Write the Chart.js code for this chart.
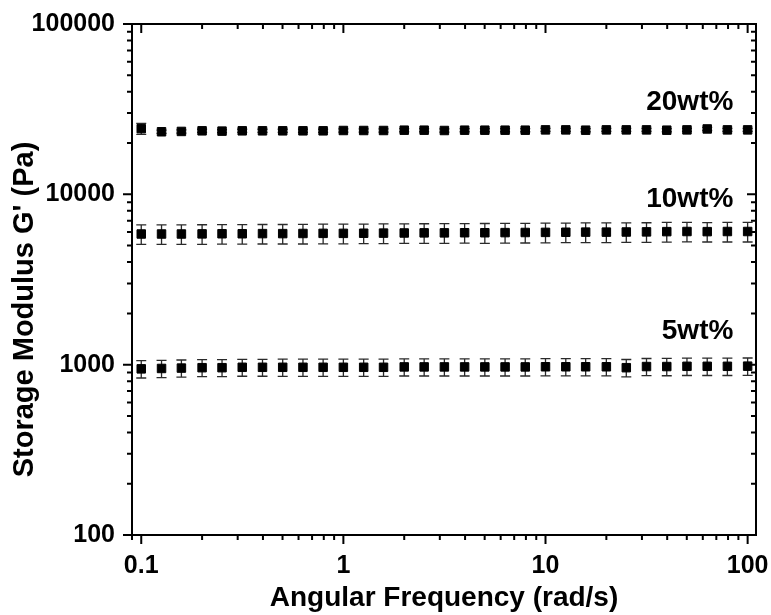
<!DOCTYPE html>
<html>
<head>
<meta charset="utf-8">
<script src="https://cdn.jsdelivr.net/npm/chart.js@4.4.1/dist/chart.umd.min.js"></script>
<style>
  html, body { margin: 0; padding: 0; background: #fff; }
  #wrap { width: 771px; height: 615px; }
</style>
</head>
<body>
<div id="wrap"><canvas id="c" width="771" height="615"></canvas></div>
<script>
// ---- data ----
const freq = [0.1, 0.126, 0.158, 0.2, 0.251, 0.316, 0.398, 0.501, 0.631, 0.794,
              1, 1.26, 1.58, 2, 2.51, 3.16, 3.98, 5.01, 6.31, 7.94,
              10, 12.6, 15.8, 20, 25.1, 31.6, 39.8, 50.1, 63.1, 79.4, 100];

const g20 = [24300, 23300, 23400, 23600, 23500, 23600, 23600, 23600, 23600, 23600,
             23700, 23700, 23700, 23800, 23800, 23700, 23800, 23800, 23800, 23800,
             23900, 23900, 23800, 23900, 23900, 23900, 23800, 23900, 24200, 23900, 23900];
const e20 = [1800, 500, 500, 500, 500, 500, 500, 500, 500, 500,
             500, 500, 500, 500, 500, 500, 500, 500, 500, 500,
             500, 500, 500, 500, 500, 500, 500, 500, 500, 500, 500];

const g10 = [5850, 5850, 5850, 5860, 5870, 5870, 5880, 5880, 5890, 5900,
             5900, 5910, 5920, 5930, 5940, 5940, 5950, 5950, 5960, 5970,
             5980, 5990, 6000, 6000, 6010, 6020, 6040, 6050, 6040, 6050, 6050];
const e10 = [760, 770, 770, 770, 770, 770, 770, 770, 780, 780,
             780, 780, 780, 780, 780, 790, 780, 790, 790, 790,
             790, 780, 790, 790, 790, 790, 800, 790, 790, 800, 800];

const g5 = [945, 950, 955, 960, 960, 965, 965, 965, 965, 965,
            965, 965, 965, 970, 970, 970, 970, 970, 970, 970,
            972, 972, 972, 972, 960, 975, 975, 978, 978, 978, 980];
const e5 = [110, 110, 110, 110, 110, 110, 110, 112, 112, 112,
            112, 112, 112, 112, 112, 112, 112, 112, 112, 112,
            112, 112, 112, 112, 112, 112, 114, 114, 114, 114, 114];

const seriesNames = ["5wt%", "10wt%", "20wt%"];
const xTickValues = [0.1, 1, 10, 100];
const xTickLabels = ["0.1", "1", "10", "100"];
const yTickValues = [100, 1000, 10000, 100000];
const yTickLabels = ["100", "1000", "10000", "100000"];
const xTitle = "Angular Frequency (rad/s)";
const yTitle = "Storage Modulus G' (Pa)";
const xMin = 0.09, xMax = 110, yMin = 100, yMax = 100000;
// label anchor positions (data space, right edge / vertical middle of text)
const labelX = [85, 85, 85];
const labelY = [1560, 9300, 34800];

// ---- chart ----
const FONT = "'Liberation Sans', Arial, Helvetica, sans-serif";
const toPts = (ys) => freq.map((f, i) => ({ x: f, y: ys[i] }));
const errs = [e5, e10, e20];

const errorBarPlugin = {
  id: 'errorBars',
  beforeDatasetsDraw(chart) {
    const ctx = chart.ctx;
    const xs = chart.scales.x, ys = chart.scales.y;
    ctx.save();
    ctx.strokeStyle = '#2a2a2a';
    ctx.lineWidth = 1.3;
    chart.data.datasets.forEach((ds, di) => {
      ds.data.forEach((p, i) => {
        const e = errs[di][i];
        const px = xs.getPixelForValue(p.x);
        const top = ys.getPixelForValue(p.y + e);
        const bot = ys.getPixelForValue(p.y - e);
        const cap = 5;
        ctx.beginPath();
        ctx.moveTo(px, top); ctx.lineTo(px, bot);
        ctx.moveTo(px - cap, top); ctx.lineTo(px + cap, top);
        ctx.moveTo(px - cap, bot); ctx.lineTo(px + cap, bot);
        ctx.stroke();
      });
    });
    ctx.restore();
  }
};

function minorValues(min, max) {
  const out = [];
  for (let d = Math.floor(Math.log10(min)); d <= Math.ceil(Math.log10(max)); d++) {
    for (let k = 1; k <= 9; k++) {
      const v = k * Math.pow(10, d);
      if (v >= min && v <= max) out.push({ v, major: k === 1 });
    }
  }
  return out;
}

const framePlugin = {
  id: 'frame',
  afterDraw(chart) {
    const ctx = chart.ctx;
    const { left, right, top, bottom } = chart.chartArea;
    const xs = chart.scales.x, ys = chart.scales.y;
    ctx.save();
    ctx.strokeStyle = '#000';
    ctx.lineWidth = 2;
    ctx.beginPath();
    ctx.rect(left, top, right - left, bottom - top);
    ctx.stroke();
    const MAJ = 9, MIN = 5;
    ctx.beginPath();
    minorValues(xMin, xMax).forEach(t => {
      const px = xs.getPixelForValue(t.v);
      const L = t.major ? MAJ : MIN;
      ctx.moveTo(px, bottom); ctx.lineTo(px, bottom + L);   // bottom: outward
      ctx.moveTo(px, top); ctx.lineTo(px, top + L);         // top: inward
    });
    minorValues(yMin, yMax).forEach(t => {
      const py = ys.getPixelForValue(t.v);
      const L = t.major ? MAJ : MIN;
      ctx.moveTo(left, py); ctx.lineTo(left - L, py);       // left: outward
      ctx.moveTo(right, py); ctx.lineTo(right - L, py);     // right: inward
    });
    ctx.stroke();
    ctx.fillStyle = '#000';
    // y axis title (sits a little below the axis centre in the reference)
    ctx.save();
    ctx.font = "bold 29px " + FONT;
    ctx.textAlign = 'center';
    ctx.textBaseline = 'middle';
    ctx.translate(25, (top + bottom) / 2 + 30);
    ctx.rotate(-Math.PI / 2);
    ctx.fillText(yTitle, 0, 0);
    ctx.restore();
    // series labels
    ctx.font = "bold 28px " + FONT;
    ctx.textAlign = 'right';
    ctx.textBaseline = 'middle';
    seriesNames.forEach((n, i) => {
      ctx.fillText(n, xs.getPixelForValue(labelX[i]), ys.getPixelForValue(labelY[i]));
    });
    ctx.restore();
  }
};

const ds = (label, ys) => ({
  label,
  data: toPts(ys),
  pointStyle: 'rect',
  pointRadius: 6,
  pointBorderWidth: 1,
  backgroundColor: '#000',
  borderColor: '#000',
  showLine: false
});

new Chart(document.getElementById('c'), {
  type: 'scatter',
  data: { datasets: [ds(seriesNames[0], g5), ds(seriesNames[1], g10), ds(seriesNames[2], g20)] },
  options: {
    responsive: false,
    animation: false,
    devicePixelRatio: 1,
    layout: { padding: { top: 24, right: 15, left: 0, bottom: 0 } },
    plugins: { legend: { display: false }, tooltip: { enabled: false } },
    scales: {
      x: {
        type: 'logarithmic',
        min: xMin, max: xMax,
        afterBuildTicks: (s) => { s.ticks = xTickValues.map(v => ({ value: v })); },
        afterFit: (s) => { s.height = 80; s.paddingLeft = 0; s.paddingRight = 0; },
        grid: { display: false, drawTicks: false },
        border: { display: false },
        ticks: {
          autoSkip: false, maxRotation: 0, padding: 16, color: '#000',
          font: { family: FONT, size: 25, weight: 'bold' },
          callback: (v) => { const i = xTickValues.indexOf(v); return i >= 0 ? xTickLabels[i] : ''; }
        },
        title: {
          display: true, text: xTitle, color: '#000',
          font: { family: FONT, size: 28, weight: 'bold', lineHeight: 1.2 },
          padding: { top: 0, bottom: 0 }
        }
      },
      y: {
        type: 'logarithmic',
        min: yMin, max: yMax,
        afterBuildTicks: (s) => { s.ticks = yTickValues.map(v => ({ value: v })); },
        afterFit: (s) => { s.width = 132; s.paddingTop = 0; s.paddingBottom = 0; },
        grid: { display: false, drawTicks: false },
        border: { display: false },
        ticks: {
          autoSkip: false, padding: 17, color: '#000',
          font: { family: FONT, size: 25, weight: 'bold' },
          callback: (v) => { const i = yTickValues.indexOf(v); return i >= 0 ? yTickLabels[i] : ''; }
        },
        title: { display: false }
      }
    }
  },
  plugins: [errorBarPlugin, framePlugin]
});
</script>
</body>
</html>
